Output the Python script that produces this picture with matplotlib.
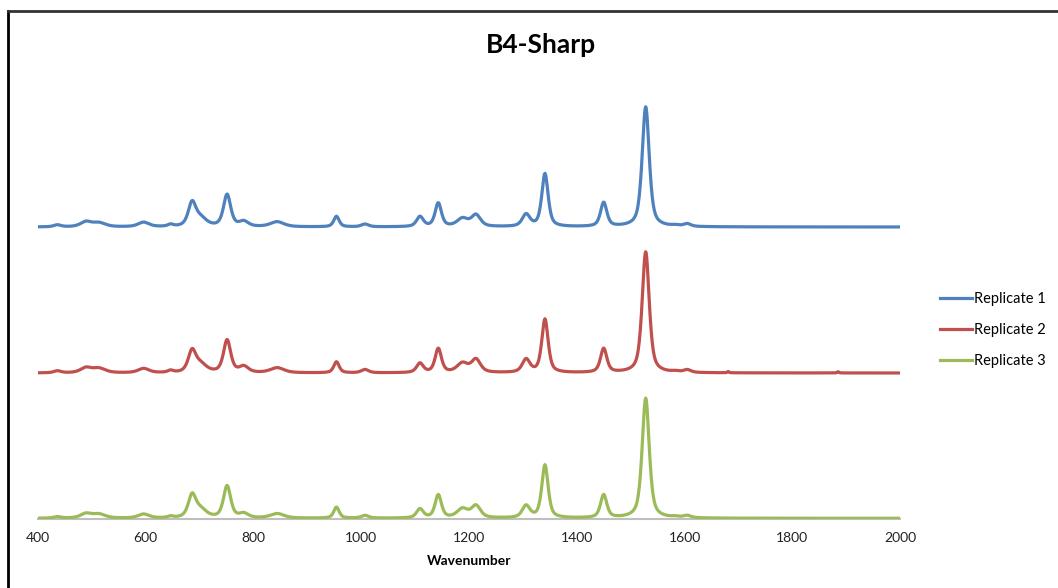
import numpy as np
import matplotlib
matplotlib.use("Agg")
from matplotlib import pyplot as plt
from matplotlib.lines import Line2D

plt.rcParams['font.family'] = ['Lato', 'DejaVu Sans']

# peak table (wavenumber, half width, height per replicate)
peak_centers = [436, 489, 513, 596, 646, 686, 702, 751, 782, 844, 954, 1007,
                1109, 1143, 1188, 1213, 1306, 1341, 1450, 1528, 1583, 1605, 1681, 1885]
peak_widths = [8, 12, 14, 12, 6, 8.5, 13, 8, 10, 15, 6, 8,
               7.5, 7, 12, 10, 8.5, 7, 7, 7.8, 8, 8, 2, 2]
rep1_heights = [2, 5, 4, 4.5, 2, 23, 8, 32, 5, 5, 10.5, 2.7,
                10, 23.5, 8, 11.5, 12, 53, 24, 120, 1, 2.7, 0, 0]
rep2_heights = [2, 5, 4.5, 4.3, 2, 21, 8, 32.5, 6, 5, 11, 3.3,
                9.3, 24, 9.3, 13, 13, 53.5, 24, 121, 1, 2.7, 1.2, 1.2]
rep3_heights = [1.5, 4.5, 4, 4, 1.5, 22, 8, 32, 4.3, 4.5, 11, 2.7,
                9, 23, 9, 12, 12, 53, 23, 120, 1, 2.3, 0, 0]

labels = ['Replicate 1', 'Replicate 2', 'Replicate 3']
offsets = [292, 146, 0.7]
colors = ['#4F81BD', '#C0504D', '#9BBB59']

wavenumber = np.arange(400, 2001, 1.0)


def spectrum(heights):
    y = np.zeros_like(wavenumber)
    for c, w, h in zip(peak_centers, peak_widths, heights):
        lor = 1 / (1 + ((wavenumber - c) / w) ** 2)
        gau = np.exp(-np.log(2) * ((wavenumber - c) / w) ** 2)
        y += h * (0.6 * lor + 0.4 * gau)
    return y


fig = plt.figure(figsize=(10.58, 5.88), dpi=100)
ax = fig.add_axes([38 / 1058, 69 / 588, 862 / 1058, 439 / 588])

for heights, off, col, lab in zip([rep1_heights, rep2_heights, rep3_heights], offsets, colors, labels):
    ax.plot(wavenumber, spectrum(heights) + off, color=col, lw=2.3, label=lab,
            solid_joinstyle='round')

ax.set_xlim(400, 2000)
ax.set_ylim(0, 439)
ax.set_xticks(range(400, 2001, 200))
ax.set_yticks([])
for s in ['top', 'right', 'left']:
    ax.spines[s].set_visible(False)
ax.spines['bottom'].set_color('#BFBFBF')
ax.spines['bottom'].set_linewidth(1.5)
ax.spines['bottom'].set_zorder(0)
ax.tick_params(axis='x', length=0, pad=9, labelsize=10, labelcolor='#222222')
ax.set_xlabel('Wavenumber', fontsize=10, fontweight='bold', labelpad=8)

fig.text(541 / 1058, 1 - 45 / 588, 'B4-Sharp', ha='center', va='center',
         fontsize=19, fontweight='bold')

ax.legend(loc='upper left', bbox_to_anchor=(940 / 1058, 1 - 292 / 588),
          bbox_transform=fig.transFigure, frameon=False, fontsize=10.5,
          handlelength=2.2, handletextpad=0.15, labelspacing=1.18,
          borderpad=0, borderaxespad=0)

# chart border (left and top edges visible in the crop)
fig.add_artist(Line2D([7.5 / 1058, 7.5 / 1058], [0, 1 - 11 / 588], color='black', lw=2,
                      transform=fig.transFigure))
fig.add_artist(Line2D([7.5 / 1058, 1], [1 - 11 / 588, 1 - 11 / 588], color='#333333', lw=2,
                      transform=fig.transFigure))

fig.savefig('out.png', dpi=100)
